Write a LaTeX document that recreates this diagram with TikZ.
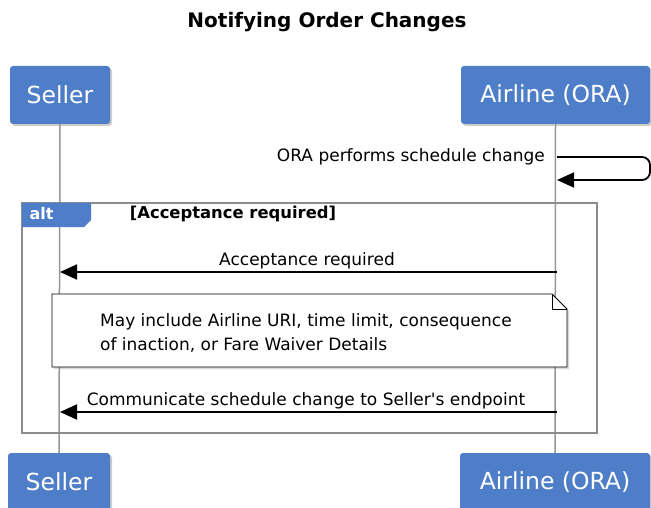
\documentclass[tikz,border=0pt]{standalone}
\usepackage{fontspec}
\setmainfont{DejaVu Sans}
\usetikzlibrary{arrows.meta,shadows}

\definecolor{actorblue}{RGB}{79,126,201}
\definecolor{lifegray}{RGB}{150,150,150}
\definecolor{framegray}{RGB}{140,140,140}

\tikzset{
  actor/.style={fill=actorblue,rounded corners=3pt,text=white,inner sep=0pt,
    minimum height=58pt,font=\fontsize{23.5}{26}\selectfont,
    drop shadow={shadow xshift=2pt,shadow yshift=-2pt,opacity=0.4}},
  lifeline/.style={draw=lifegray,line width=1.5pt},
  msg/.style={line width=1.8pt,-{Triangle[length=17pt,width=15pt]}},
  msglabel/.style={font=\fontsize{17}{19}\selectfont,inner sep=0pt},
}

\begin{document}
\begin{tikzpicture}[x=1pt,y=-1pt]
	\useasboundingbox (0,0) rectangle (651,508);
	% title
	\node[font=\bfseries\fontsize{20}{22}\selectfont] (title) at (327,22) {Notifying Order Changes};
	% lifelines
	\node[actor,minimum width=100pt] (sellerTop) at (60,95) {Seller};
	\node[actor,minimum width=189pt] (oraTop) at (555.5,95) {Airline (ORA)};
	\node[actor,minimum width=102pt] (sellerBot) at (59,482) {Seller};
	\node[actor,minimum width=190pt] (oraBot) at (555,482) {Airline (ORA)};
	\draw[lifeline] (sellerTop.south) -- (sellerBot.north);
	\draw[lifeline] (oraTop.south) -- (oraBot.north);
	% self message
	\coordinate (selfOut) at (557,157);
	\coordinate (selfIn) at (557,180);
	\draw[msg,rounded corners=8pt] (selfOut) -- ++(93,0) -- ++(0,23) -- (selfIn);
	\node[msglabel,anchor=east] (selfLbl) at (545,157) {ORA performs schedule change};
	% alt frame
	\draw[framegray,line width=1.3pt] (22,203) rectangle (597,433);
	\fill[actorblue] (22,203) -- (91,203) -- (91,220) -- (84,227) -- (22,227) -- cycle;
	\node[text=white,font=\bfseries\fontsize{16}{18}\selectfont,anchor=west] (altLbl) at (26,214) {alt};
	\node[font=\bfseries\fontsize{16.4}{18}\selectfont] (guard) at (233,214) {[Acceptance required]};
	% acceptance required
	\coordinate (oraA) at (557,272);
	\coordinate (sellerA) at (60,272);
	\draw[msg] (oraA) -- (sellerA);
	\node[msglabel] (accLbl) at (307,261) {Acceptance required};
	% note
	\draw[black,line width=0.8pt,fill=white,drop shadow={shadow xshift=2pt,shadow yshift=-2pt,opacity=0.3}]
		(52,294) -- (552,294) -- (567,309) -- (567,367) -- (52,367) -- cycle;
	\draw[black,line width=0.8pt] (552,294) -- (552,309) -- (567,309);
	\node[msglabel,anchor=west,align=left,font=\fontsize{17}{24}\selectfont] (note) at (100,333)
		{May include Airline URI, time limit, consequence\\of inaction, or Fare Waiver Details};
	% communicate
	\coordinate (oraB) at (557,412);
	\coordinate (sellerB) at (60,412);
	\draw[msg] (oraB) -- (sellerB);
	\node[msglabel] (comLbl) at (306,401) {Communicate schedule change to Seller\textquotesingle s endpoint};
\end{tikzpicture}
\end{document}
